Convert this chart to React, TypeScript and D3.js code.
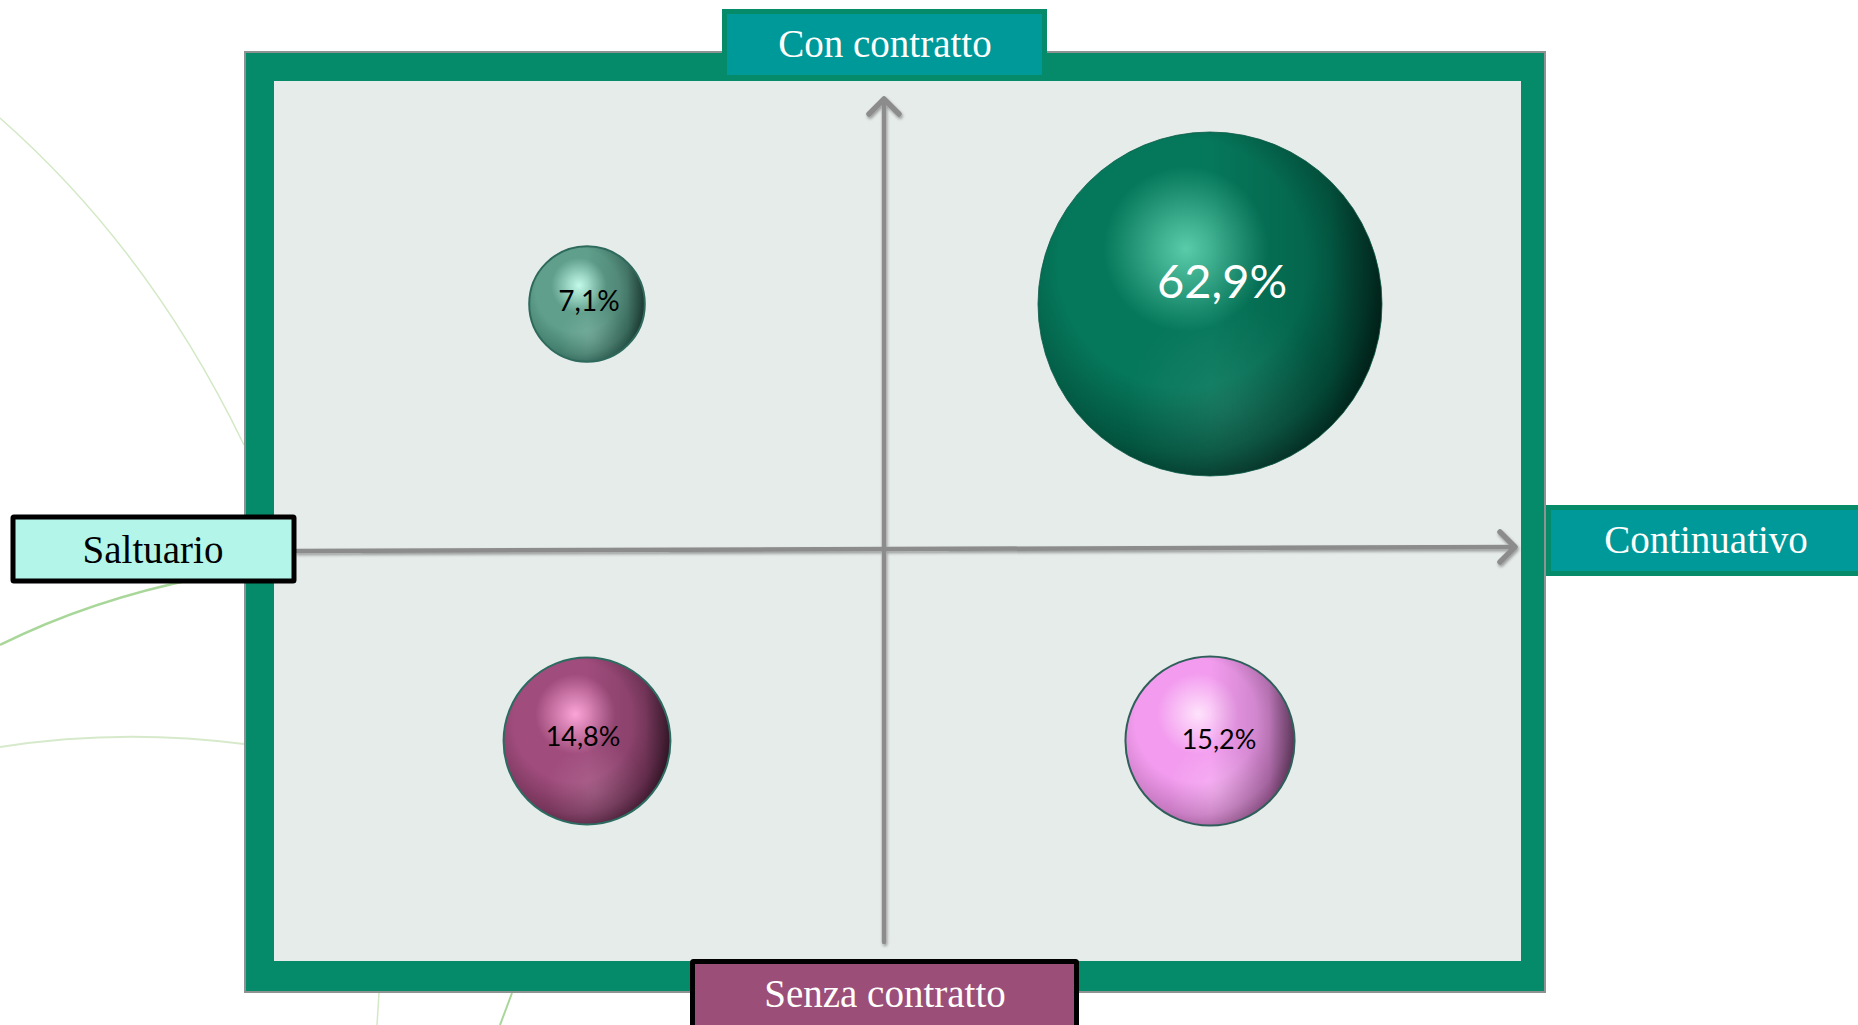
import React from "react";
import * as d3 from "d3";

// ---- data ----
const xCategories = ["Saltuario", "Continuativo"];
const yCategories = ["Senza contratto", "Con contratto"];
const bubbleX = ["Saltuario", "Continuativo", "Saltuario", "Continuativo"];
const bubbleY = ["Con contratto", "Con contratto", "Senza contratto", "Senza contratto"];
const bubbleValues = [7.1, 62.9, 14.8, 15.2];

// ---- styles ----
const bubbleStyles = [
  { base: "#5f9f8b", dark: "#24574a", hi: "#c9fff0", stroke: "#2e6a5c", text: "#000", size: 28, dx: 2, dy: -4, refl: 0.14 },
  { base: "#05775a", dark: "#012a1f", hi: "#5fd0ae", stroke: "#0a5a46", text: "#fff", size: 47, dx: 12, dy: -24, refl: 0.08 },
  { base: "#a04c7c", dark: "#471a34", hi: "#ffa9dc", stroke: "#2b6b60", text: "#000", size: 27, dx: -4, dy: -6, refl: 0.12 },
  { base: "#f39cef", dark: "#93508a", hi: "#ffe6fc", stroke: "#2f5f5a", text: "#000", size: 27, dx: 9, dy: -3, refl: 0.2 },
];

const W = 1858;
const H = 1025;
const itLocale = d3.formatLocale({ decimal: ",", thousands: ".", grouping: [3], currency: ["", "€"] });
const fmt = itLocale.format(".1f");

export default function App() {
  const x = d3.scalePoint().domain(xCategories).range([587, 1210]);
  const y = d3.scalePoint().domain(yCategories).range([741, 304]);
  const r = d3.scaleSqrt().domain([0, d3.max(bubbleValues) as number]).range([0, 172]);

  const frame = { x0: 244, y0: 51, x1: 1546, y1: 993 };
  const inner = { x0: 274, y0: 81, x1: 1521, y1: 961 };
  const axisX = 884;
  const serif = "'Liberation Serif', 'Times New Roman', serif";
  const sans = "Lato, 'Open Sans', 'Liberation Sans', sans-serif";

  const lineGen = d3.line();

  return (
    <svg width={W} height={H} style={{ position: "absolute", left: 0, top: 0, background: "#fff" }}>
      <defs>
        <filter id="shadow" x="-20%" y="-20%" width="140%" height="140%">
          <feDropShadow dx="1" dy="2" stdDeviation="1.5" floodColor="#000" floodOpacity="0.35" />
        </filter>
        <linearGradient id="rightShade" x1="0" y1="0" x2="1" y2="0">
          <stop offset="0.5" stopColor="#000" stopOpacity="0" />
          <stop offset="0.85" stopColor="#000" stopOpacity="0.18" />
          <stop offset="1" stopColor="#000" stopOpacity="0.5" />
        </linearGradient>
        {bubbleStyles.map((s, i) => (
          <React.Fragment key={i}>
            <radialGradient id={`base${i}`} cx="0.42" cy="0.4" r="0.66" fx="0.42" fy="0.36">
              <stop offset="0" stopColor={s.base} />
              <stop offset="0.55" stopColor={s.base} />
              <stop offset="0.82" stopColor={d3.interpolateRgb(s.base, s.dark)(0.45)} />
              <stop offset="1" stopColor={s.dark} />
            </radialGradient>
            <radialGradient id={`hi${i}`} cx="0.43" cy="0.34" r="0.24">
              <stop offset="0" stopColor={s.hi} stopOpacity="0.95" />
              <stop offset="1" stopColor={s.hi} stopOpacity="0" />
            </radialGradient>
            <radialGradient id={`refl${i}`} cx="0.55" cy="0.8" r="0.3">
              <stop offset="0" stopColor="#fff" stopOpacity={s.refl} />
              <stop offset="1" stopColor="#fff" stopOpacity="0" />
            </radialGradient>
          </React.Fragment>
        ))}
      </defs>

      {/* decorative background curves */}
      <g fill="none">
        <path d="M0,118 Q150,250 244,445" stroke="#d3e9c5" strokeWidth={1.5} />
        <path d="M0,645 Q90,600 200,578" stroke="#a9d79a" strokeWidth={2.5} />
        <path d="M0,747 Q120,728 244,744" stroke="#d6eacb" strokeWidth={2} />
        <path d="M379,993 L377,1025" stroke="#d3e9c5" strokeWidth={1.5} />
        <path d="M512,993 L500,1025" stroke="#a9d79a" strokeWidth={2} />
      </g>

      {/* frame */}
      <rect x={frame.x0} y={frame.y0} width={frame.x1 - frame.x0} height={frame.y1 - frame.y0} fill="#8e9290" />
      <rect x={frame.x0 + 2} y={frame.y0 + 2} width={frame.x1 - frame.x0 - 4} height={frame.y1 - frame.y0 - 4} fill="#058b6a" />
      <rect x={inner.x0} y={inner.y0} width={inner.x1 - inner.x0} height={inner.y1 - inner.y0} fill="#e6ecea" />

      {/* axes */}
      <g stroke="#8c8c8c" strokeWidth={4.5} strokeLinecap="round" strokeLinejoin="round" fill="none" filter="url(#shadow)">
        <path d={lineGen([[axisX, 942], [axisX, 99]]) as string} />
        <path d={lineGen([[axisX - 15, 114], [axisX, 99], [axisX + 15, 114]]) as string} strokeWidth={5.5} />
        <path d={lineGen([[297, 551], [1515, 547]]) as string} />
        <path d={lineGen([[1500, 532], [1515, 547], [1500, 562]]) as string} strokeWidth={5.5} />
      </g>

      {/* bubbles */}
      {bubbleValues.map((v, i) => {
        const cx = x(bubbleX[i]) as number;
        const cy = y(bubbleY[i]) as number;
        const rad = r(v);
        const s = bubbleStyles[i];
        return (
          <g key={i}>
            <circle cx={cx} cy={cy} r={rad} fill={`url(#base${i})`} />
            <circle cx={cx} cy={cy} r={rad} fill={`url(#refl${i})`} />
            <circle cx={cx} cy={cy} r={rad} fill={`url(#hi${i})`} />
            <circle cx={cx} cy={cy} r={rad} fill="url(#rightShade)" stroke={s.stroke} strokeWidth={i === 1 ? 0.8 : 2} />
            <text
              x={cx + s.dx}
              y={cy + s.dy}
              textAnchor="middle"
              dominantBaseline="central"
              fontFamily={sans}
              fontSize={s.size}
              fill={s.text}
            >
              {fmt(v)}%
            </text>
          </g>
        );
      })}

      {/* quadrant labels */}
      <g fontFamily={serif} fontSize={39} textAnchor="middle">
        <rect x={724.5} y={11.5} width={320} height={66} fill="#009999" stroke="#058b6a" strokeWidth={5} />
        <text x={885} y={57} fill="#fff">{yCategories[1]}</text>

        <rect x={1548.5} y={507.5} width={320} height={66} fill="#009999" stroke="#058b6a" strokeWidth={5} />
        <text x={1706} y={553} fill="#fff">{xCategories[1]}</text>

        <rect x={13} y={517} width={281} height={64} fill="#b3f5e8" stroke="#000" strokeWidth={5} rx={1} />
        <text x={153} y={563} fill="#000">{xCategories[0]}</text>

        <rect x={692.5} y={961.5} width={384} height={80} fill="#9b4e78" stroke="#000" strokeWidth={5} rx={1} />
        <text x={885} y={1007} fill="#fff">{yCategories[0]}</text>
      </g>
    </svg>
  );
}
